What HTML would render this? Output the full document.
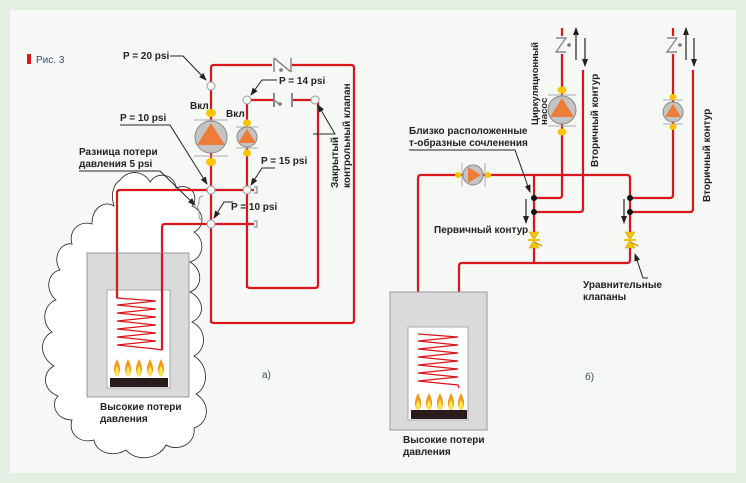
<!DOCTYPE html>
<html><head><meta charset="utf-8"><style>
html,body{margin:0;padding:0;background:#e3efe3}
svg{display:block}
text{font-family:"Liberation Sans","DejaVu Sans",sans-serif;font-weight:bold;font-size:10px;fill:#222}
</style></head><body>
<svg width="746" height="483" viewBox="0 0 746 483" xmlns="http://www.w3.org/2000/svg">
<defs>
<marker id="ah" markerWidth="8" markerHeight="8" refX="7" refY="4" orient="auto" markerUnits="userSpaceOnUse"><path d="M0,1 L8,4 L0,7 Z" fill="#222"/></marker>
<g id="flames">
<path d="M0,18 C-5,12 -3,6 0,0 C3,6 5,12 0,18Z" fill="#f39a1e"/><path d="M0,18 C-3,14 -2,10 0,7 C2,10 3,14 0,18Z" fill="#ffe84a"/>
</g>
<g id="bv"><path d="M-5,-8 L5,-8 L0,0 Z M-5,8 L5,8 L0,0 Z" fill="#f5c400" stroke="#c99a00" stroke-width="0.5"/><line x1="-6" y1="0" x2="6" y2="0" stroke="#f5c400" stroke-width="2"/><line x1="0" y1="2" x2="8" y2="6" stroke="#c99a00" stroke-width="1.5"/></g>
</defs>
<rect x="0" y="0" width="746" height="483" fill="#e3efe3"/>
<rect x="10" y="10" width="726" height="463" fill="#f5f8f5"/>

<rect x="27" y="54" width="4" height="10" fill="#e0141b"/>
<text x="36" y="63" style="font-weight:normal;fill:#3a4a66">Рис. 3</text>

<path d="M120,180 C130,168 145,172 150,182 C158,170 175,175 176,188 C190,182 200,196 192,206 C206,212 204,228 194,232 C206,240 204,258 190,262 C204,270 202,288 190,292 C205,300 205,316 192,322 C208,330 206,350 194,356 C210,366 208,388 196,394 C212,404 208,424 194,428 C196,444 178,452 166,445 C158,460 136,462 126,450 C112,458 96,452 94,440 C78,444 68,432 72,420 C56,420 50,404 58,396 C42,390 42,372 54,366 C38,356 40,338 52,332 C40,322 44,304 56,300 C44,290 48,272 60,270 C52,258 60,242 72,244 C68,230 80,220 92,224 C92,208 104,200 114,206 C110,194 114,184 120,180Z" fill="#fff" stroke="#222" stroke-width="0.8"/>

<g fill="none" stroke="#d9161c" stroke-width="2.2" stroke-linejoin="round">
<path d="M211,323 L211,68 Q211,65 214,65 L272,65 M292,65 L351,65 Q354,65 354,68 L354,320 Q354,323 351,323 L214,323 Q211,323 211,320"/>
<path d="M247,288 L247,103 Q247,100 250,100 L274,100 M291,100 L315,100 L318,103 L318,285 Q318,288 315,288 L250,288 Q247,288 247,285"/>
<path d="M117,300 L117,193 Q117,190 120,190 L254,190"/>
<path d="M162,350 L162,227 Q162,224 165,224 L254,224"/>
</g>
<path d="M274,58 L274,72 M274,58 L291,72 M291,58 L291,72" fill="none" stroke="#888" stroke-width="1.5"/>
<circle cx="281" cy="70" r="1.8" fill="#777"/>
<line x1="274" y1="93" x2="274" y2="107" stroke="#888" stroke-width="2"/><line x1="292" y1="93" x2="292" y2="107" stroke="#888" stroke-width="2"/>
<line x1="274" y1="100" x2="279" y2="104" stroke="#888" stroke-width="1.5"/><circle cx="280" cy="104" r="1.8" fill="#777"/>
<g fill="#f5f8f5" stroke="#999" stroke-width="1">
<circle cx="211" cy="86" r="4"/><circle cx="247" cy="100" r="4"/><circle cx="315" cy="100" r="4"/>
<circle cx="211" cy="190" r="4"/><circle cx="247" cy="190" r="4"/><circle cx="211" cy="224" r="4"/>
</g>
<path d="M254,187 L257,187 L257,193 L254,193 M254,221 L257,221 L257,227 L254,227" fill="none" stroke="#777"/>
<path d="M203,196 Q199,196 199,200 L199,204 L197,207 L199,210 L199,216 Q199,220 203,220" fill="none" stroke="#999"/>
<line x1="194" y1="120" x2="228" y2="120" stroke="#aaa"/><line x1="194" y1="156" x2="228" y2="156" stroke="#aaa"/>
<circle cx="211" cy="137" r="16" fill="#c4c4c4" stroke="#888"/>
<path d="M211,123 L225,145 L197,145Z" fill="#ef7d3a"/>
<ellipse cx="211" cy="113" rx="5" ry="4" fill="#fbc400"/><ellipse cx="211" cy="162" rx="5" ry="4" fill="#fbc400"/>
<line x1="236" y1="127" x2="258" y2="127" stroke="#aaa"/><line x1="236" y1="148" x2="258" y2="148" stroke="#aaa"/>
<circle cx="247" cy="137" r="10" fill="#c4c4c4" stroke="#888"/>
<path d="M247,129 L256,143 L238,143Z" fill="#ef7d3a"/>
<ellipse cx="247" cy="123" rx="4" ry="3.5" fill="#fbc400"/><ellipse cx="247" cy="153" rx="4" ry="3.5" fill="#fbc400"/>
<text x="123" y="59">P = 20 psi</text>
<path d="M170,56 L183,56 L206,80" fill="none" stroke="#222" marker-end="url(#ah)"/>
<text x="279" y="84">P = 14 psi</text>
<path d="M277,80 L262,80 L251,95" fill="none" stroke="#222" marker-end="url(#ah)"/>
<text x="190" y="109">Вкл</text><text x="226" y="117">Вкл</text>
<text x="120" y="121">P = 10 psi</text>
<path d="M120,125 L170,125 L207,184" fill="none" stroke="#222" marker-end="url(#ah)"/>
<text x="79" y="155">Разница потери</text><text x="79" y="167">давления 5 psi</text>
<path d="M79,171 L160,171 L195,205" fill="none" stroke="#222" marker-end="url(#ah)"/>
<text x="261" y="164">P = 15 psi</text>
<path d="M275,168 L262,168 L251,185" fill="none" stroke="#222" marker-end="url(#ah)"/>
<text x="231" y="210">P = 10 psi</text>
<path d="M233,202 L224,202 L214,218" fill="none" stroke="#222" marker-end="url(#ah)"/>
<path d="M313,134 L335,134 L318,105" fill="none" stroke="#222" marker-end="url(#ah)"/>
<text transform="translate(338,188) rotate(-90)">Закрытый</text>
<text transform="translate(350,188) rotate(-90)">контрольный клапан</text>
<rect x="87" y="253" width="102" height="144" fill="#dadada" stroke="#999"/>
<rect x="107" y="290" width="63" height="98" fill="#fff" stroke="#aaa"/>
<polyline points="117,260 117,298 156,301 117,305 156,309 117,313 156,317 117,321 156,325 117,329 156,333 117,337 156,341 117,345 156,349 162,350" fill="none" stroke="#d9161c" stroke-width="1.3"/>
<line x1="117" y1="253" x2="117" y2="298" stroke="#d9161c" stroke-width="2.2"/><line x1="162" y1="253" x2="162" y2="350" stroke="#d9161c" stroke-width="2.2"/>
<use href="#flames" x="117" y="359"/><use href="#flames" x="128" y="359"/><use href="#flames" x="139" y="359"/><use href="#flames" x="150" y="359"/><use href="#flames" x="161" y="359"/>
<rect x="110" y="378" width="58" height="9" fill="#2a1a1a"/>
<text x="100" y="410">Высокие потери</text><text x="100" y="422">давления</text>
<text x="262" y="378" style="font-weight:normal;fill:#3a4a66">а)</text>

<g fill="none" stroke="#d9161c" stroke-width="2.2" stroke-linejoin="round">
<path d="M418,334 L418,178 Q418,175 421,175 L627,175 Q630,175 630,178 L630,260 Q630,263 627,263 L462,263 Q459,263 459,266 L459,388"/>
<path d="M534,175 L534,263"/>
<path d="M534,198 L559,198 Q562,198 562,195 L562,28"/>
<path d="M534,212 L580,212 Q583,212 583,209 L583,70"/>
<path d="M630,198 L670,198 Q673,198 673,195 L673,28"/>
<path d="M630,212 L690,212 Q693,212 693,209 L693,70"/>
</g>
<rect x="558" y="36" width="8" height="18" fill="#f5f8f5"/><path d="M556,38 L566,38 L556,52 L566,52" fill="none" stroke="#888" stroke-width="1.4"/><circle cx="569" cy="45" r="1.8" fill="#777"/>
<rect x="669" y="36" width="8" height="18" fill="#f5f8f5"/><path d="M667,38 L677,38 L667,52 L677,52" fill="none" stroke="#888" stroke-width="1.4"/><circle cx="680" cy="45" r="1.8" fill="#777"/>
<g stroke="#222" stroke-width="1.2" marker-end="url(#ah)">
<line x1="576" y1="60" x2="576" y2="28"/><line x1="585" y1="38" x2="585" y2="66"/>
<line x1="686" y1="60" x2="686" y2="28"/><line x1="694" y1="38" x2="694" y2="66"/>
<line x1="526" y1="199" x2="526" y2="223"/><line x1="624" y1="199" x2="624" y2="223"/>
</g>
<line x1="548" y1="95" x2="576" y2="95" stroke="#aaa"/><line x1="548" y1="126" x2="576" y2="126" stroke="#aaa"/>
<circle cx="562" cy="110" r="14" fill="#c4c4c4" stroke="#888"/><path d="M562,98 L574,117 L550,117Z" fill="#ef7d3a"/>
<ellipse cx="562" cy="90" rx="4.5" ry="3.5" fill="#fbc400"/><ellipse cx="562" cy="132" rx="4.5" ry="3.5" fill="#fbc400"/>
<line x1="663" y1="100" x2="683" y2="100" stroke="#aaa"/><line x1="663" y1="124" x2="683" y2="124" stroke="#aaa"/>
<circle cx="673" cy="112" r="10" fill="#c4c4c4" stroke="#888"/><path d="M673,104 L681,117 L665,117Z" fill="#ef7d3a"/>
<ellipse cx="673" cy="97" rx="3.5" ry="3" fill="#fbc400"/><ellipse cx="673" cy="127" rx="3.5" ry="3" fill="#fbc400"/>
<line x1="462" y1="163" x2="462" y2="187" stroke="#aaa"/><line x1="485" y1="163" x2="485" y2="187" stroke="#aaa"/>
<circle cx="473" cy="175" r="10" fill="#c4c4c4" stroke="#888"/><path d="M481,175 L468,167 L468,183Z" fill="#ef7d3a"/>
<circle cx="458" cy="175" r="3" fill="#fbc400"/><circle cx="488" cy="175" r="3" fill="#fbc400"/>
<circle cx="534" cy="198" r="3" fill="#111"/><circle cx="534" cy="212" r="3" fill="#111"/>
<circle cx="630" cy="198" r="3" fill="#111"/><circle cx="630" cy="212" r="3" fill="#111"/>
<use href="#bv" x="534" y="240"/><use href="#bv" x="630" y="240"/>
<text x="409" y="134">Близко расположенные</text><text x="409" y="146">т-образные сочленения</text>
<path d="M409,150 L515,150 L530,192" fill="none" stroke="#222" marker-end="url(#ah)"/>
<text x="434" y="233">Первичный контур</text>
<text x="583" y="288">Уравнительные</text><text x="583" y="300">клапаны</text>
<path d="M648,278 L643,278 L635,254" fill="none" stroke="#222" marker-end="url(#ah)"/>
<text transform="translate(538,125) rotate(-90)" style="font-size:9.5px">Циркуляционный</text>
<text transform="translate(547,125) rotate(-90)" style="font-size:9.5px">насос</text>
<text transform="translate(598,167) rotate(-90)">Вторичный контур</text>
<text transform="translate(710,202) rotate(-90)">Вторичный контур</text>
<rect x="390" y="292" width="97" height="138" fill="#dadada" stroke="#999"/>
<rect x="408" y="327" width="60" height="93" fill="#fff" stroke="#aaa"/>
<polyline points="418,334 458,337 418,341 458,345 418,349 458,353 418,357 458,361 418,365 458,369 418,373 458,377 418,381 458,385 459,388" fill="none" stroke="#d9161c" stroke-width="1.3"/>
<use href="#flames" x="418" y="393"/><use href="#flames" x="429" y="393"/><use href="#flames" x="440" y="393"/><use href="#flames" x="451" y="393"/><use href="#flames" x="461" y="393"/>
<rect x="411" y="410" width="56" height="9" fill="#2a1a1a"/>
<text x="403" y="443">Высокие потери</text><text x="403" y="455">давления</text>
<text x="585" y="380" style="font-weight:normal;fill:#3a4a66">б)</text>
</svg>
</body></html>
